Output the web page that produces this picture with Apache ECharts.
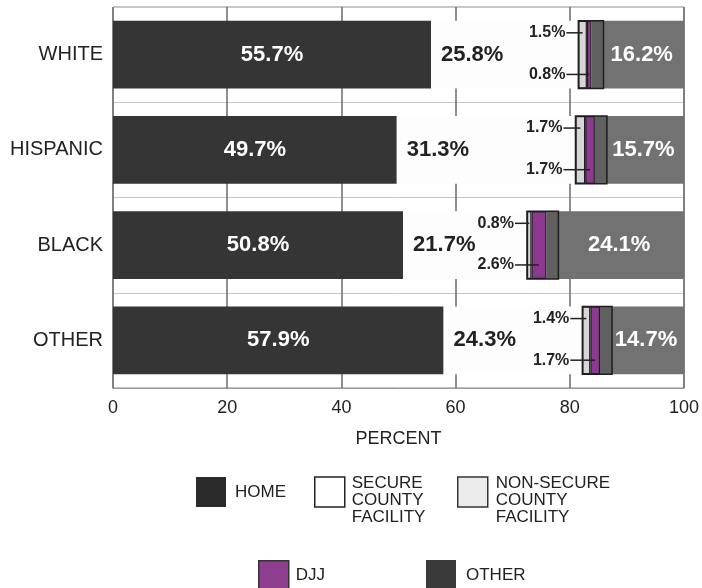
<!DOCTYPE html>
<html>
<head>
<meta charset="utf-8">
<script src="https://cdn.jsdelivr.net/npm/echarts@6/dist/echarts.min.js"></script>
<style>html,body{margin:0;padding:0;background:#fff}#c{width:702px;height:588px}</style>
</head>
<body>
<div id="c"></div>
<script>
var categories = ['WHITE', 'HISPANIC', 'BLACK', 'OTHER'];
var home = [55.7, 49.7, 50.8, 57.9];
var secure = [25.8, 31.3, 21.7, 24.3];
var nonSecure = [1.5, 1.7, 0.8, 1.4];
var djj = [0.8, 1.7, 2.6, 1.7];
var other = [16.2, 15.7, 24.1, 14.7];
var xTicks = [0, 20, 40, 60, 80, 100];

var FONT = 'Liberation Sans, Arial, sans-serif';
var BAR_RATIO = 0.71;
var chart = echarts.init(document.getElementById('c'), null, {renderer: 'canvas'});

function pct(p) { return p.value + '%'; }
var bigLabel = {show: true, formatter: pct, fontSize: 22, fontWeight: 'bold', fontFamily: FONT};

function legendBox(name, left, top, iconStyle, padLeft) {
  return {
    left: left, top: top, padding: 0, itemWidth: 30, itemHeight: 30,
    selectedMode: false, icon: 'rect',
    data: [{name: name, itemStyle: iconStyle}],
    formatter: function (n) {
      var parts = n.split(' ');
      return parts.length > 1 ? '\n' + parts.join('\n') : n;
    },
    textStyle: {fontSize: 17, lineHeight: 17, color: '#222', fontFamily: FONT, padding: [0, 0, 0, padLeft]}
  };
}

function renderLeaders(params, api) {
  var i = params.dataIndex;
  var s = home[i] + secure[i];
  var c0 = api.coord([s, i]);
  var barH = api.size([0, 1])[1] * BAR_RATIO;
  var top = c0[1] - barH / 2, bot = c0[1] + barH / 2;
  var xNsMid = api.coord([s + nonSecure[i] / 2, i])[0];
  var xDjMid = api.coord([s + nonSecure[i] + djj[i] / 2, i])[0];
  var xOther = api.coord([s + nonSecure[i] + djj[i], i])[0];
  var tx = c0[0] - 12;
  var y1 = top + 12, y2 = bot - 14;
  var txt = {align: 'right', verticalAlign: 'middle', fontSize: 16, fontWeight: 'bold', fontFamily: FONT, fill: '#222'};
  return {
    type: 'group',
    children: [
      {type: 'rect', shape: {x: xOther, y: top, width: 12, height: barH}, style: {fill: '#606060'}},
      {type: 'rect', shape: {x: c0[0], y: top, width: xOther + 12 - c0[0], height: barH},
        style: {fill: 'none', stroke: '#1e1e1e', lineWidth: 1.5}},
      {type: 'line', shape: {x1: tx, y1: y1, x2: xNsMid, y2: y1}, style: {stroke: '#222', lineWidth: 1.5}},
      {type: 'line', shape: {x1: tx, y1: y2, x2: xDjMid, y2: y2}, style: {stroke: '#222', lineWidth: 1.5}},
      {type: 'text', style: Object.assign({x: tx - 1, y: y1, text: nonSecure[i] + '%'}, txt)},
      {type: 'text', style: Object.assign({x: tx - 1, y: y2, text: djj[i] + '%'}, txt)}
    ]
  };
}

var option = {
  backgroundColor: '#fff',
  animation: false,
  textStyle: {fontFamily: FONT},
  grid: {left: 113, right: 16, top: 7, bottom: 200, show: true, borderColor: '#888', borderWidth: 1, backgroundColor: 'transparent'},
  legend: [
    legendBox('HOME', 196, 477, {color: '#2b2b2b'}, 4),
    legendBox('SECURE COUNTY FACILITY', 314, 458, {color: '#ffffff', borderColor: '#222', borderWidth: 1.5}, 2),
    legendBox('NON-SECURE COUNTY FACILITY', 457, 458, {color: '#ececec', borderColor: '#333', borderWidth: 1.5}, 3),
    legendBox('DJJ', 258, 560, {color: '#8e3e8e', borderColor: '#333', borderWidth: 1.5}, 2),
    legendBox('OTHER', 426, 560, {color: '#3a3a3a'}, 5)
  ],
  xAxis: {
    type: 'value', min: 0, max: 100, interval: 20,
    name: 'PERCENT', nameLocation: 'middle', nameGap: 42,
    nameTextStyle: {fontSize: 18, color: '#222', fontFamily: FONT},
    axisLine: {show: true, lineStyle: {color: '#999'}},
    axisTick: {show: false},
    axisLabel: {fontSize: 18, color: '#222', margin: 11, fontFamily: FONT,
      formatter: function (v) { return xTicks.indexOf(v) >= 0 ? String(v) : ''; }},
    splitLine: {show: true, lineStyle: {color: '#6a6a6a', width: 1.5}}
  },
  yAxis: {
    type: 'category', data: categories, inverse: true,
    axisLine: {show: false}, axisTick: {show: false},
    axisLabel: {fontSize: 20, color: '#222', margin: 10, fontFamily: FONT},
    splitLine: {show: true, lineStyle: {color: '#c8c8c8', width: 1}}
  },
  series: [
    {name: 'HOME', type: 'bar', stack: 'all', barWidth: (BAR_RATIO * 100) + '%', data: home,
      itemStyle: {color: '#353535'},
      label: Object.assign({}, bigLabel, {position: 'inside', color: '#fff'})},
    {name: 'SECURE COUNTY FACILITY', type: 'bar', stack: 'all', data: secure,
      itemStyle: {color: '#fdfdfd'},
      label: Object.assign({}, bigLabel, {position: 'insideLeft', distance: 10, color: '#222'})},
    {name: 'NON-SECURE COUNTY FACILITY', type: 'bar', stack: 'all', data: nonSecure,
      itemStyle: {color: '#d6d6d6', borderColor: '#1e1e1e', borderWidth: 1.2}},
    {name: 'DJJ', type: 'bar', stack: 'all', data: djj,
      itemStyle: {color: '#8b3a8f', borderColor: '#1e1e1e', borderWidth: 1.2}},
    {name: 'OTHER', type: 'bar', stack: 'all', data: other,
      itemStyle: {color: '#727272'},
      label: Object.assign({}, bigLabel, {position: 'inside', color: '#fff', offset: [4, 0]})},
    {name: 'leaders', type: 'custom', z: 3, renderItem: renderLeaders,
      encode: {x: 0, y: 1}, silent: true,
      data: categories.map(function (c, i) { return [home[i] + secure[i], i]; })}
  ]
};
chart.setOption(option);
</script>
</body>
</html>
